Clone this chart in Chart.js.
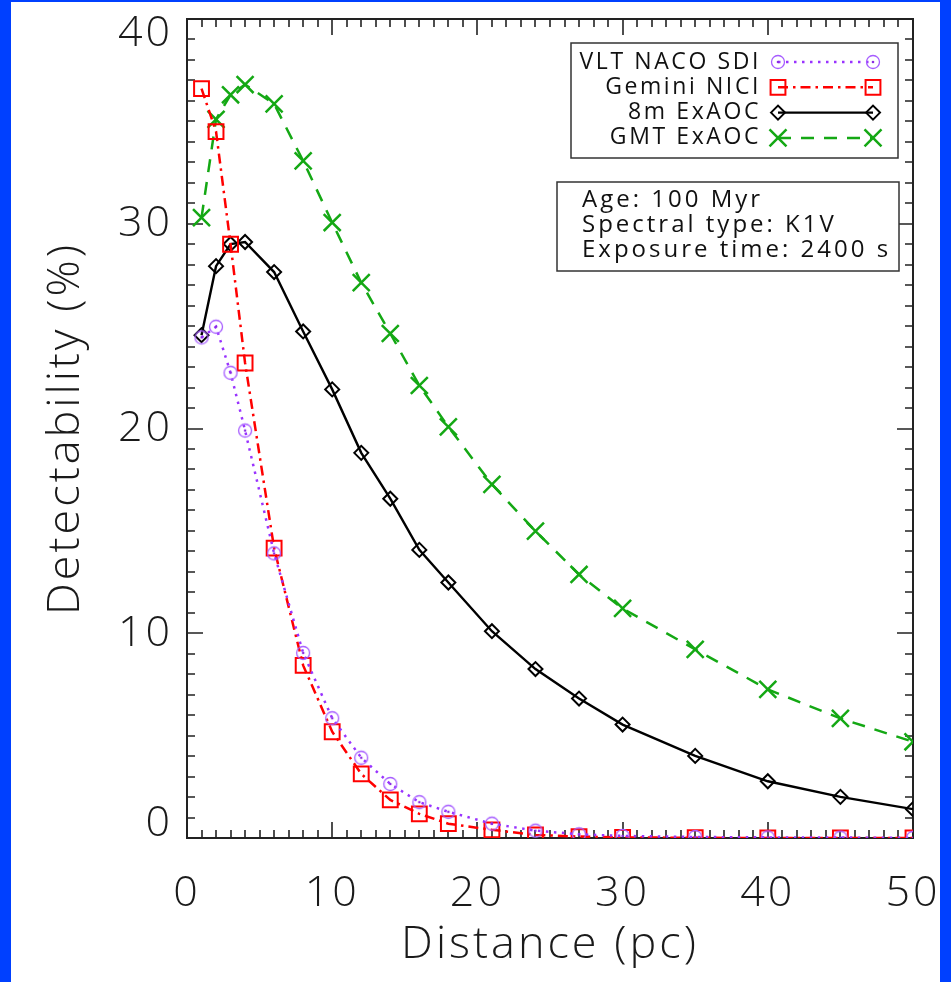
<!DOCTYPE html>
<html>
<head>
<meta charset="utf-8">
<title>Detectability vs distance</title>
<script src="https://cdn.jsdelivr.net/npm/chart.js@4.4.1/dist/chart.umd.min.js"></script>
<style>
  html, body { margin: 0; padding: 0; background: #0040ff; }
  #panel { position: absolute; left: 11px; top: 2px; width: 929px; height: 980px; background: #fff; }
</style>
</head>
<body>
<div id="panel"><canvas id="detChart" width="929" height="980"></canvas></div>
<script>
// distances (pc) where detectability was computed
const distances = [1, 2, 3, 4, 6, 8, 10, 12, 14, 16, 18, 21, 24, 27, 30, 35, 40, 45, 50];

// detectability (%) per instrument
const nacoSdi = [24.45, 24.97, 22.72, 19.9, 13.9, 9.04, 5.85, 3.92, 2.64, 1.75, 1.28, 0.70, 0.36, 0.18, 0.1, 0.05, 0.03, 0.02, 0.01];
const geminiNici = [36.6, 34.5, 29.0, 23.2, 14.16, 8.43, 5.19, 3.13, 1.86, 1.18, 0.70, 0.4, 0.15, 0.07, 0.03, 0.01, 0.0, 0.0, 0.0];
const exaoc8m = [24.56, 27.93, 29.01, 29.11, 27.64, 24.74, 21.91, 18.81, 16.57, 14.07, 12.48, 10.10, 8.25, 6.81, 5.54, 4.01, 2.77, 2.01, 1.41];
const gmtExaoc = [30.3, 35.1, 36.3, 36.8, 35.85, 33.07, 30.06, 27.12, 24.64, 22.1, 20.08, 17.27, 14.99, 12.87, 11.21, 9.21, 7.26, 5.84, 4.70];

const seriesNames = ['VLT NACO SDI', 'Gemini NICI', '8m ExAOC', 'GMT ExAOC'];
const infoLines = ['Age: 100 Myr', 'Spectral type: K1V', 'Exposure time: 2400 s'];

const xTicks = [0, 10, 20, 30, 40, 50];
const yTicks = [0, 10, 20, 30, 40];

const FONT = "'Open Sans', 'DejaVu Sans', sans-serif";
Chart.defaults.font.family = FONT;
Chart.defaults.color = '#1a1a1a';

// open circle with a dot in the middle
function circleDot(color) {
  const c = document.createElement('canvas');
  c.width = 18; c.height = 18;
  const g = c.getContext('2d');
  g.strokeStyle = color;
  g.lineWidth = 1.3;
  g.beginPath(); g.arc(9, 9, 6.5, 0, Math.PI * 2); g.stroke();
  g.fillStyle = '#8a2be2';
  g.beginPath(); g.arc(9, 9, 1.3, 0, Math.PI * 2); g.fill();
  return c;
}

function toPoints(ys) {
  return distances.map((d, i) => ({ x: d, y: ys[i] }));
}

const datasets = [
  {
    label: seriesNames[0], data: toPoints(nacoSdi),
    borderColor: '#9933ff', borderWidth: 2.5, borderDash: [2.5, 5.5],
    pointStyle: circleDot('#a65cff'), pointRadius: 6.5
  },
  {
    label: seriesNames[1], data: toPoints(geminiNici),
    borderColor: '#ff0000', borderWidth: 2.5, borderDash: [10, 5, 2.5, 5],
    pointStyle: 'rect', pointRadius: 10.5, pointBorderWidth: 2
  },
  {
    label: seriesNames[2], data: toPoints(exaoc8m),
    borderColor: '#000000', borderWidth: 2.4, borderDash: [],
    pointStyle: 'rectRot', pointRadius: 7, pointBorderWidth: 2
  },
  {
    label: seriesNames[3], data: toPoints(gmtExaoc),
    borderColor: '#14a814', borderWidth: 2.5, borderDash: [13, 10],
    pointStyle: 'crossRot', pointRadius: 12, pointBorderWidth: 2.5
  }
].map(ds => Object.assign({
  showLine: true, tension: 0, clip: 0,
  pointBorderColor: ds.borderColor,
  pointBackgroundColor: 'rgba(0,0,0,0)',
  pointHoverRadius: ds.pointRadius
}, ds));

// wider letter spacing for the axis text
const spacing = {
  id: 'spacing',
  beforeDraw(chart) { chart.ctx.letterSpacing = '3px'; }
};

// box around the plot with inward minor/major ticks on all sides
const frame = {
  id: 'frame',
  beforeDatasetsDraw(chart) {
    const { ctx, chartArea: a, scales: { x, y } } = chart;
    ctx.save();
    ctx.strokeStyle = '#222';
    ctx.lineWidth = 2;
    ctx.strokeRect(a.left, a.top, a.right - a.left, a.bottom - a.top);
    ctx.lineWidth = 1.6;
    ctx.beginPath();
    for (let v = x.min; v <= x.max; v++) {
      const px = Math.round(x.getPixelForValue(v));
      const len = v % 10 === 0 ? 16 : 8;
      ctx.moveTo(px, a.bottom); ctx.lineTo(px, a.bottom - len);
      ctx.moveTo(px, a.top); ctx.lineTo(px, a.top + len);
    }
    for (let v = y.min; v <= y.max; v++) {
      const py = Math.round(y.getPixelForValue(v));
      const len = v % 10 === 0 ? 16 : 8;
      ctx.moveTo(a.left, py); ctx.lineTo(a.left + len, py);
      ctx.moveTo(a.right, py); ctx.lineTo(a.right - len, py);
    }
    ctx.stroke();
    ctx.restore();
  }
};

// legend (text right aligned, sample line with a marker at each end) and the info box
const boxes = {
  id: 'boxes',
  afterDraw(chart) {
    const ctx = chart.ctx;
    ctx.save();
    ctx.lineWidth = 1.5;
    ctx.strokeStyle = '#333';
    ctx.fillStyle = '#fff';
    ctx.fillRect(560, 41, 327, 115);
    ctx.strokeRect(560, 41, 327, 115);

    ctx.font = '23px ' + FONT;
    ctx.letterSpacing = '2.6px';
    ctx.textBaseline = 'middle';
    chart.data.datasets.forEach((ds, i) => {
      const yRow = 60 + i * 25.3;
      ctx.fillStyle = '#111';
      ctx.textAlign = 'right';
      ctx.fillText(ds.label, 750, yRow);

      ctx.strokeStyle = ds.borderColor;
      ctx.lineWidth = ds.borderWidth;
      ctx.setLineDash(ds.borderDash);
      ctx.beginPath(); ctx.moveTo(767, yRow); ctx.lineTo(862, yRow); ctx.stroke();
      ctx.setLineDash([]);
      ctx.lineWidth = ds.pointBorderWidth || 1.5;
      ctx.fillStyle = 'rgba(0,0,0,0)';
      const opts = { pointStyle: ds.pointStyle, radius: ds.pointRadius, borderWidth: ctx.lineWidth, rotation: 0 };
      Chart.helpers.drawPoint(ctx, opts, 767, yRow);
      Chart.helpers.drawPoint(ctx, opts, 862, yRow);
    });

    ctx.lineWidth = 1.5;
    ctx.strokeStyle = '#333';
    ctx.fillStyle = '#fff';
    ctx.fillRect(546, 180, 342, 89);
    ctx.strokeRect(546, 180, 342, 89);
    ctx.fillStyle = '#111';
    ctx.textAlign = 'left';
    ctx.font = '24px ' + FONT;
    ctx.letterSpacing = '3px';
    infoLines.forEach((t, i) => ctx.fillText(t, 571, 198 + i * 25));
    ctx.restore();
  }
};

// fixed axis box sizes, no extra padding from edge labels
function fixBox(size) {
  return s => {
    if (s.isHorizontal()) s.height = size; else s.width = size;
    s.paddingTop = s.paddingBottom = s.paddingLeft = s.paddingRight = 0;
  };
}

new Chart(document.getElementById('detChart'), {
  type: 'scatter',
  data: { datasets },
  options: {
    responsive: false,
    animation: false,
    layout: { padding: { top: 17, right: 27, left: 0, bottom: 0 } },
    plugins: { legend: { display: false }, tooltip: { enabled: false } },
    scales: {
      x: {
        type: 'linear', min: 0, max: 50,
        afterBuildTicks: s => { s.ticks = xTicks.map(v => ({ value: v })); },
        afterFit: fixBox(144),
        grid: { display: false, drawTicks: false },
        border: { display: false },
        ticks: { font: { size: 43, weight: 300 }, padding: 30, maxRotation: 0 },
        title: { display: true, text: 'Distance (pc)', font: { size: 45, weight: 300 }, padding: { top: 0, bottom: 10 } }
      },
      y: {
        type: 'linear', min: 0, max: 40,
        afterBuildTicks: s => { s.ticks = yTicks.map(v => ({ value: v })); },
        afterFit: fixBox(176),
        grid: { display: false, drawTicks: false },
        border: { display: false },
        ticks: {
          font: { size: 43, weight: 300, lineHeight: 0.68 },
          padding: 14,
          // end labels sit inside the axis range
          callback: v => v === 40 ? ['', '40'] : v === 0 ? ['0', ''] : String(v)
        },
        title: { display: true, text: 'Detectability (%)', font: { size: 45, weight: 300 }, padding: { top: 28, bottom: 0 } }
      }
    }
  },
  plugins: [spacing, frame, boxes]
});
</script>
</body>
</html>
